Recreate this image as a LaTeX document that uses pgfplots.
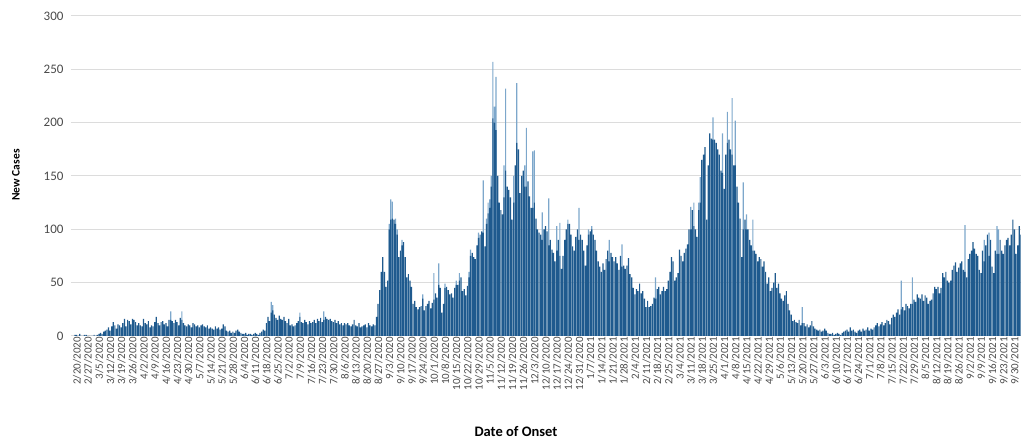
\documentclass[border=0pt]{standalone}
\usepackage{pgfplots}
\pgfplotsset{compat=1.18}
\usepackage{pgfplotstable}
\usepackage{fontspec}
\setmainfont{Carlito}
\definecolor{darkbar}{HTML}{1F5A8E}
\definecolor{lightbar}{HTML}{7DA7CB}
\definecolor{gridgray}{HTML}{DCDCDC}
\definecolor{labgray}{HTML}{4A4A4A}

% daily new cases (dark part), day 0 = 2/20/2020
\pgfplotstableread[header=false,row sep=\\]{
1\\ 1\\ 0\\ 2\\ 0\\ 0\\ 1\\ 1\\ 0\\ 0\\
0\\ 0\\ 1\\ 0\\ 1\\ 2\\ 3\\ 2\\ 4\\ 5\\
6\\ 8\\ 5\\ 9\\ 13\\ 10\\ 7\\ 11\\ 10\\ 8\\
12\\ 16\\ 9\\ 15\\ 14\\ 11\\ 16\\ 15\\ 13\\ 10\\
12\\ 10\\ 9\\ 16\\ 12\\ 11\\ 14\\ 8\\ 10\\ 9\\
13\\ 18\\ 12\\ 10\\ 13\\ 14\\ 11\\ 12\\ 9\\ 15\\
15\\ 14\\ 12\\ 15\\ 13\\ 10\\ 17\\ 15\\ 12\\ 10\\
9\\ 11\\ 10\\ 8\\ 12\\ 11\\ 9\\ 10\\ 8\\ 10\\
11\\ 9\\ 8\\ 10\\ 7\\ 8\\ 7\\ 6\\ 9\\ 7\\
8\\ 6\\ 7\\ 11\\ 9\\ 5\\ 4\\ 5\\ 3\\ 4\\
3\\ 5\\ 6\\ 4\\ 3\\ 2\\ 2\\ 3\\ 1\\ 2\\
2\\ 1\\ 2\\ 3\\ 2\\ 1\\ 3\\ 4\\ 6\\ 5\\
12\\ 18\\ 14\\ 22\\ 24\\ 20\\ 17\\ 15\\ 19\\ 16\\
15\\ 18\\ 14\\ 12\\ 16\\ 10\\ 11\\ 9\\ 10\\ 12\\
14\\ 18\\ 13\\ 12\\ 15\\ 13\\ 11\\ 14\\ 12\\ 13\\
15\\ 12\\ 16\\ 14\\ 17\\ 13\\ 15\\ 18\\ 16\\ 15\\
16\\ 14\\ 13\\ 15\\ 12\\ 14\\ 11\\ 12\\ 10\\ 12\\
11\\ 12\\ 10\\ 9\\ 11\\ 15\\ 10\\ 9\\ 12\\ 8\\
9\\ 10\\ 11\\ 8\\ 12\\ 10\\ 9\\ 11\\ 10\\ 18\\
30\\ 43\\ 60\\ 74\\ 60\\ 46\\ 52\\ 100\\ 109\\ 110\\
109\\ 105\\ 95\\ 74\\ 80\\ 85\\ 88\\ 74\\ 55\\ 58\\
52\\ 46\\ 30\\ 33\\ 27\\ 25\\ 27\\ 28\\ 35\\ 24\\
28\\ 30\\ 33\\ 26\\ 31\\ 34\\ 40\\ 36\\ 48\\ 45\\
22\\ 30\\ 45\\ 46\\ 43\\ 39\\ 40\\ 36\\ 45\\ 48\\
48\\ 52\\ 55\\ 42\\ 44\\ 38\\ 47\\ 55\\ 75\\ 78\\
74\\ 72\\ 85\\ 92\\ 95\\ 98\\ 97\\ 84\\ 105\\ 115\\
120\\ 140\\ 204\\ 200\\ 193\\ 150\\ 125\\ 118\\ 114\\ 130\\
155\\ 140\\ 137\\ 130\\ 109\\ 125\\ 160\\ 181\\ 175\\ 134\\
150\\ 155\\ 140\\ 140\\ 145\\ 131\\ 120\\ 120\\ 125\\ 110\\
100\\ 97\\ 95\\ 90\\ 100\\ 103\\ 98\\ 85\\ 90\\ 81\\
78\\ 70\\ 80\\ 90\\ 75\\ 63\\ 75\\ 90\\ 100\\ 105\\
105\\ 95\\ 84\\ 80\\ 93\\ 100\\ 90\\ 95\\ 90\\ 80\\
66\\ 85\\ 95\\ 98\\ 100\\ 95\\ 90\\ 80\\ 70\\ 65\\
60\\ 68\\ 62\\ 72\\ 80\\ 70\\ 78\\ 74\\ 70\\ 74\\
68\\ 62\\ 75\\ 65\\ 66\\ 63\\ 66\\ 73\\ 58\\ 55\\
45\\ 39\\ 44\\ 42\\ 49\\ 40\\ 42\\ 35\\ 27\\ 33\\
27\\ 28\\ 30\\ 36\\ 35\\ 44\\ 46\\ 39\\ 42\\ 46\\
42\\ 44\\ 52\\ 60\\ 74\\ 70\\ 52\\ 55\\ 59\\ 81\\
75\\ 70\\ 78\\ 82\\ 86\\ 100\\ 100\\ 118\\ 103\\ 100\\
93\\ 118\\ 125\\ 165\\ 170\\ 177\\ 109\\ 160\\ 190\\ 185\\
184\\ 184\\ 181\\ 175\\ 170\\ 155\\ 153\\ 138\\ 170\\ 181\\
184\\ 175\\ 170\\ 160\\ 160\\ 140\\ 125\\ 110\\ 74\\ 100\\
109\\ 100\\ 100\\ 90\\ 85\\ 80\\ 80\\ 77\\ 70\\ 74\\
72\\ 65\\ 70\\ 60\\ 49\\ 55\\ 42\\ 45\\ 50\\ 59\\
45\\ 49\\ 40\\ 35\\ 33\\ 38\\ 42\\ 30\\ 24\\ 20\\
14\\ 15\\ 13\\ 12\\ 15\\ 10\\ 12\\ 12\\ 9\\ 11\\
8\\ 10\\ 14\\ 9\\ 7\\ 6\\ 5\\ 6\\ 4\\ 5\\
7\\ 5\\ 3\\ 2\\ 2\\ 3\\ 1\\ 2\\ 3\\ 2\\
1\\ 3\\ 4\\ 5\\ 6\\ 4\\ 8\\ 5\\ 6\\ 4\\
3\\ 5\\ 6\\ 4\\ 7\\ 5\\ 6\\ 8\\ 5\\ 7\\
6\\ 8\\ 10\\ 12\\ 9\\ 11\\ 13\\ 10\\ 12\\ 15\\
14\\ 11\\ 17\\ 20\\ 18\\ 22\\ 25\\ 20\\ 25\\ 27\\
24\\ 30\\ 28\\ 26\\ 30\\ 30\\ 34\\ 32\\ 39\\ 36\\
35\\ 39\\ 33\\ 38\\ 36\\ 30\\ 33\\ 34\\ 40\\ 46\\
44\\ 46\\ 40\\ 45\\ 59\\ 55\\ 60\\ 52\\ 50\\ 52\\
62\\ 66\\ 69\\ 60\\ 64\\ 68\\ 70\\ 62\\ 60\\ 55\\
72\\ 77\\ 80\\ 88\\ 82\\ 77\\ 75\\ 62\\ 59\\ 80\\
70\\ 85\\ 95\\ 75\\ 90\\ 65\\ 59\\ 80\\ 77\\ 77\\
90\\ 80\\ 77\\ 85\\ 90\\ 92\\ 85\\ 95\\ 109\\ 100\\
77\\ 85\\ 103\\ 95\\
}\darkdata

% days whose bar has a lighter top: day, total
\pgfplotstableread{
d t
60 23
67 23
123 32
124 29
141 22
156 23
197 105
198 128
199 126
201 110
202 100
205 90
218 39
225 59
228 68
232 49
239 52
241 59
247 60
248 81
253 97
256 146
258 110
259 125
260 128
261 150
262 257
263 215
264 243
269 160
270 232
275 150
277 237
282 160
283 195
287 173
288 174
293 116
297 129
302 103
304 106
309 109
316 120
322 100
324 103
335 90
343 86
364 55
386 121
388 125
391 125
392 149
400 205
406 190
409 210
412 223
414 202
419 144
421 114
425 109
456 27
518 52
525 55
558 104
570 90
573 97
578 103
579 100
}\lightdata

\begin{document}
\begin{tikzpicture}[x=1pt,y=1pt]
\path[use as bounding box] (0,0) rectangle (1021,442);
\begin{axis}[
  at={(71pt,106pt)}, anchor=south west,
  scale only axis, width=950pt, height=320pt,
  xmin=-2.5, xmax=593.1, ymin=0, ymax=300,
  axis line style={draw=none},
  major tick length=0pt,
  ytick={0,50,...,300},
  ymajorgrids, grid style={draw=gridgray, line width=1pt},
  /pgf/number format/assume math mode=true,
  yticklabel style={font=\fontsize{13}{15}\selectfont, text=labgray, xshift=-4pt},
  xtick={0,7,...,588},
  xticklabels={2/20/2020,2/27/2020,3/5/2020,3/12/2020,3/19/2020,3/26/2020,4/2/2020,4/9/2020,4/16/2020,4/23/2020,4/30/2020,5/7/2020,5/14/2020,5/21/2020,5/28/2020,6/4/2020,6/11/2020,6/18/2020,6/25/2020,7/2/2020,7/9/2020,7/16/2020,7/23/2020,7/30/2020,8/6/2020,8/13/2020,8/20/2020,8/27/2020,9/3/2020,9/10/2020,9/17/2020,9/24/2020,10/1/2020,10/8/2020,10/15/2020,10/22/2020,10/29/2020,11/5/2020,11/12/2020,11/19/2020,11/26/2020,12/3/2020,12/10/2020,12/17/2020,12/24/2020,12/31/2020,1/7/2021,1/14/2021,1/21/2021,1/28/2021,2/4/2021,2/11/2021,2/18/2021,2/25/2021,3/4/2021,3/11/2021,3/18/2021,3/25/2021,4/1/2021,4/8/2021,4/15/2021,4/22/2021,4/29/2021,5/6/2021,5/13/2021,5/20/2021,5/27/2021,6/3/2021,6/10/2021,6/17/2021,6/24/2021,7/1/2021,7/8/2021,7/15/2021,7/22/2021,7/29/2021,8/5/2021,8/12/2021,8/19/2021,8/26/2021,9/2/2021,9/9/2021,9/16/2021,9/23/2021,9/30/2021},
  xticklabel style={rotate=90, anchor=east, font=\fontsize{11}{12}\selectfont, text=labgray, inner sep=1pt, yshift=-2pt},
]
\addplot[ybar, bar width=0.75, bar shift=0pt, fill=lightbar, draw=none] table[x=d, y=t] {\lightdata};
\addplot[ybar, bar width=0.75, bar shift=0pt, fill=darkbar, draw=none] table[x expr=\coordindex, y index=0] {\darkdata};
\end{axis}
\node[rotate=90, font=\bfseries\fontsize{11.5}{13}\selectfont] at (16,267) {New Cases};
\node[font=\bfseries\fontsize{14.5}{16}\selectfont] at (516,10) {Date of Onset};
\end{tikzpicture}
\end{document}
